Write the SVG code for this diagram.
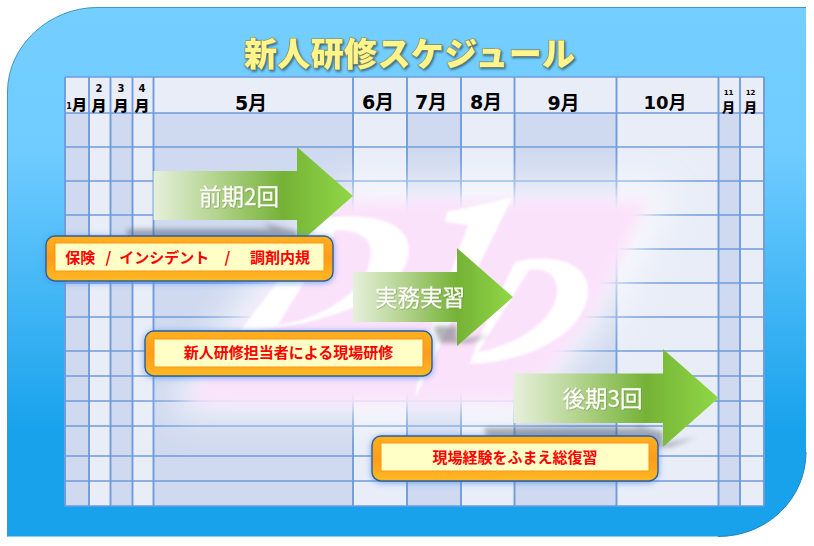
<svg xmlns="http://www.w3.org/2000/svg" width="814" height="546" viewBox="0 0 814 546">
<style>
.hl{stroke:#6f9cdd;stroke-width:1.7;fill:none}
.vl{stroke:#6f9cdd;stroke-width:1.9;fill:none}
.d{fill:#cfd9ef}.l{fill:#e9edf8}
.m{font-family:"DejaVu Sans","Noto Sans CJK JP",sans-serif;font-weight:700;fill:#000;text-anchor:middle}
.mj{font-family:"Noto Sans CJK JP",sans-serif;font-weight:900;fill:#000;text-anchor:middle}
.at{font-family:"Noto Sans CJK JP",sans-serif;font-weight:400;font-size:22.500px;fill:#fff;text-anchor:middle;stroke:#f4f8e4;stroke-width:.3;filter:url(#ts)}
.ct{font-family:"Noto Sans CJK JP",sans-serif;font-weight:700;font-size:15px;fill:#f00;text-anchor:middle}
.co{fill:url(#og);stroke:#2f5f95;stroke-width:1.4;filter:url(#glow)}
.ci{fill:#ffffc6;stroke:#ff9412;stroke-width:1;filter:url(#soft)}
.sh{fill:#55585f;opacity:.45;filter:url(#blur3)}
</style>
<defs>
<linearGradient id="bg" x1="0" y1="0" x2="0" y2="1"><stop offset="0" stop-color="#74cfff"/><stop offset=".27" stop-color="#70ccff"/><stop offset=".8" stop-color="#18a2ec"/><stop offset="1" stop-color="#18a2ec"/></linearGradient>
<linearGradient id="og" x1="0" y1="0" x2="0" y2="1"><stop offset="0" stop-color="#ffb020"/><stop offset=".5" stop-color="#ff9c1c"/><stop offset="1" stop-color="#ffb922"/></linearGradient>
<linearGradient id="a1" gradientUnits="userSpaceOnUse" x1="153" y1="0" x2="353" y2="0"><stop offset="0" stop-color="#e6f0dc"/><stop offset=".3" stop-color="#b6d592"/><stop offset=".65" stop-color="#75b236"/><stop offset="1" stop-color="#90d846"/></linearGradient>
<linearGradient id="a2" gradientUnits="userSpaceOnUse" x1="353" y1="0" x2="513" y2="0"><stop offset="0" stop-color="#e6f0dc"/><stop offset=".3" stop-color="#b6d592"/><stop offset=".65" stop-color="#75b236"/><stop offset="1" stop-color="#90d846"/></linearGradient>
<linearGradient id="a3" gradientUnits="userSpaceOnUse" x1="514" y1="0" x2="718" y2="0"><stop offset="0" stop-color="#e6f0dc"/><stop offset=".3" stop-color="#b6d592"/><stop offset=".65" stop-color="#75b236"/><stop offset="1" stop-color="#90d846"/></linearGradient>
<filter id="blur3" x="-30%" y="-100%" width="160%" height="300%"><feGaussianBlur stdDeviation="2.500"/></filter>
<filter id="b1" x="-10%" y="-10%" width="120%" height="120%"><feGaussianBlur stdDeviation=".8"/></filter>
<filter id="b12" x="-30%" y="-30%" width="160%" height="160%"><feGaussianBlur stdDeviation="8"/></filter>
<filter id="b30" x="-40%" y="-40%" width="180%" height="180%"><feGaussianBlur stdDeviation="20"/></filter>
<filter id="glow" x="-10%" y="-30%" width="120%" height="170%"><feDropShadow dx="0" dy="1" stdDeviation="3" flood-color="#4a8cf0" flood-opacity=".75"/></filter>
<filter id="soft" x="-5%" y="-20%" width="110%" height="140%"><feGaussianBlur stdDeviation=".5"/></filter>
<filter id="ts" x="-10%" y="-20%" width="120%" height="140%"><feDropShadow dx=".5" dy=".5" stdDeviation=".5" flood-color="#55752a" flood-opacity=".7"/></filter>
<filter id="tt" x="-5%" y="-20%" width="110%" height="150%"><feDropShadow dx="1.200" dy="1.500" stdDeviation=".8" flood-color="#2f5f78" flood-opacity=".9"/></filter>
</defs>

<g id="background">
<path d="M97 7.500H806V452C806 498 768 536.500 718 536.500H7.500V92C7.500 45 50 7.500 97 7.500Z" fill="url(#bg)"/>
<path d="M7.500 536.500V92C7.500 45 50 7.500 97 7.500H806" fill="none" stroke="#3f95cc" stroke-width="1"/>
<path d="M806 452C806 498 768 536.500 718 536.500" fill="none" stroke="#2580bd" stroke-width="1"/>
</g>

<g id="title">
<text x="409.500" y="66" font-family="'Noto Sans CJK JP',sans-serif" font-weight="900" font-size="33" fill="#fff58a" stroke="#8b8a55" stroke-width="1.200" paint-order="stroke" text-anchor="middle" filter="url(#tt)" textLength="331">新人研修スケジュール</text>
</g>

<g id="schedule-grid">
<rect class="l" x="65" y="77" width="699" height="429"/>
<rect class="d" x="65" y="113" width="24" height="393"/>
<rect class="d" x="110.500" y="113" width="22" height="393"/>
<rect class="d" x="153.500" y="113" width="199.500" height="393"/>
<rect class="d" x="407" y="113" width="54" height="393"/>
<rect class="d" x="514.500" y="113" width="102" height="393"/>
<rect class="d" x="718.500" y="113" width="21.500" height="393"/>
<path class="vl" d="M65 77V506M89 77V506M110.500 77V506M132.500 77V506M153.500 77V506M353 77V506M407 77V506M461 77V506M514.500 77V506M616.500 77V506M718.500 77V506M740 77V506M764 77V506"/>
<path class="hl" d="M65 77H764M65 113H764M65 147H764M65 181H764M65 215H764M65 249H764M65 283H764M65 317H764M65 351H764M65 376H764M65 401H764M65 426H764M65 456H764M65 481H764M65 506H764"/>
</g>

<g id="month-labels">
<text class="mj" x="79.500" y="110" font-size="15">月</text><text class="m" x="69" y="109" font-size="8">1</text>
<text class="m" x="99" y="92" font-size="10">2</text><text class="mj" x="99" y="111" font-size="15">月</text>
<text class="m" x="121" y="92" font-size="10">3</text><text class="mj" x="121" y="111" font-size="15">月</text>
<text class="m" x="142" y="92" font-size="10">4</text><text class="mj" x="142" y="111" font-size="15">月</text>
<text class="m" x="251" y="110" font-size="19">5月</text>
<text class="m" x="378" y="109" font-size="19">6月</text>
<text class="m" x="431" y="109" font-size="19">7月</text>
<text class="m" x="486" y="109" font-size="19">8月</text>
<text class="m" x="563.500" y="110" font-size="19">9月</text>
<text class="m" x="665" y="109" font-size="18">10月</text>
<text class="m" x="728.500" y="95" font-size="7">11</text><text class="mj" x="728.500" y="112" font-size="13">月</text>
<text class="m" x="750.500" y="95" font-size="7">12</text><text class="mj" x="750.500" y="112" font-size="13">月</text>
</g>

<g id="watermark">
<path d="M340 185H675L610 315L530 415H165L245 295Z" fill="#fff" opacity=".8" filter="url(#b30)"/>
<path d="M340 200H650L590 320L525 403H185L262 300Z" fill="#fbe2fb" filter="url(#b12)"/>
<g fill="#fff" filter="url(#b1)">
<path fill-rule="evenodd" d="M326 218C370 212 409 222 409 250C409 285 350 325 240 331ZM336 230L278 325C330 318 371 285 371 252C371 236 355 230 336 230Z"/>
<path d="M447 212L512 198L452 320L415 398L425 345L468 225L445 222Z"/>
<path fill-rule="evenodd" d="M515 262C555 252 588 264 588 290C588 325 545 360 470 364L478 340ZM529 270L478 352C520 345 557 318 557 290C557 274 545 267 529 270Z"/>
</g>
</g>

<g id="arrow-shadows">
<path class="sh" d="M126 229H272L262 223L297 231V241H130Z"/>
<path class="sh" d="M433 326H457V340L490 335L470 343H440Z"/>
<path class="sh" d="M484 428H640L632 424L663 432V444L697 437L670 447H490Z"/>
</g>

<g id="phase-first">
<path d="M153.500 171H297V147L353 196L297 245V220H153.500Z" fill="url(#a1)"/>
<text class="at" x="239" y="205">前期2回</text>
</g>
<g id="phase-practice">
<path d="M353 272H457V248L513 297L457 346V322H353Z" fill="url(#a2)"/>
<text class="at" x="420" y="306">実務実習</text>
</g>
<g id="phase-second">
<path d="M514 373.500H663V349L718.500 398L663 447V423H514Z" fill="url(#a3)"/>
<text class="at" x="602.500" y="407">後期3回</text>
</g>

<g id="callout-basics">
<rect class="co" x="46" y="236" width="287" height="45" rx="9"/>
<rect class="ci" x="55" y="243" width="269" height="28"/>
<text class="ct" y="263" xml:space="preserve"><tspan x="82">保険</tspan> <tspan x="110">/</tspan> <tspan x="166">インシデント</tspan> <tspan x="229">/</tspan> <tspan x="280">調剤内規</tspan></text>
</g>
<g id="callout-onsite">
<rect class="co" x="145" y="331" width="287" height="45" rx="9"/>
<rect class="ci" x="154" y="339" width="269" height="28"/>
<text class="ct" x="288.500" y="358">新人研修担当者による現場研修</text>
</g>
<g id="callout-review">
<rect class="co" x="372" y="436" width="286" height="45" rx="9"/>
<rect class="ci" x="381" y="443" width="268" height="28"/>
<text class="ct" x="515" y="463">現場経験をふまえ総復習</text>
</g>
</svg>
